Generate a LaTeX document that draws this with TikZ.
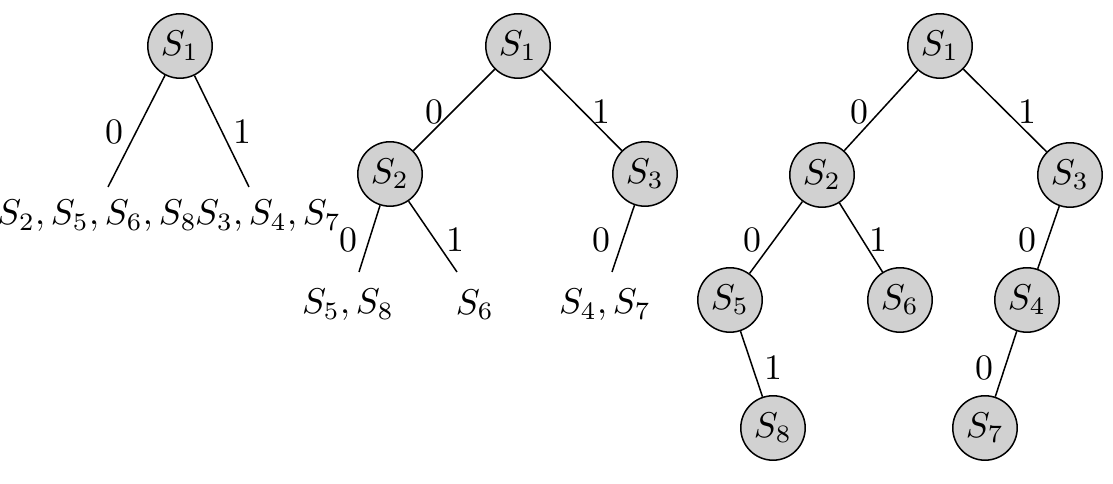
\documentclass[tikz,border=0pt]{standalone}
\begin{document}
\begin{tikzpicture}[x=0.2793pt,y=-0.2793pt,
  state/.style={circle,draw,fill=black!18,minimum size=18pt,inner sep=0pt,line width=0.42pt},
  lab/.style={inner sep=0pt},
  edge/.style={line width=0.42pt}]
\useasboundingbox (0,0) rectangle (1113,484);
% Tree 1
\node[state] (a1) at (180,46) {$S_1$};
\coordinate (a1l) at (108,187);
\coordinate (a1r) at (249,187);
\node[lab] (a1lt) at (97,216) {$S_2,S_5,S_6,S_8$};
\node[lab] (a1rt) at (268,216) {$S_3,S_4,S_7$};
\draw[edge] (a1) -- (a1l);
\draw[edge] (a1) -- (a1r);
\node[lab] (a1l0) at (114,132) {$0$};
\node[lab] (a1r1) at (242,132) {$1$};
% Tree 2
\node[state] (b1) at (518,46) {$S_1$};
\node[state] (b2) at (390,174) {$S_2$};
\node[state] (b3) at (645,174) {$S_3$};
\draw[edge] (b1) -- (b2);
\draw[edge] (b1) -- (b3);
\node[lab] (b10) at (434,112) {$0$};
\node[lab] (b11) at (601,112) {$1$};
\coordinate (b2l) at (359,272);
\coordinate (b2r) at (457,272);
\coordinate (b3l) at (612,272);
\draw[edge] (b2) -- (b2l);
\draw[edge] (b2) -- (b2r);
\draw[edge] (b3) -- (b3l);
\node[lab] (b20) at (348,240) {$0$};
\node[lab] (b21) at (455,240) {$1$};
\node[lab] (b30) at (601,240) {$0$};
\node[lab] (b2lt) at (348,305) {$S_5,S_8$};
\node[lab] (b2rt) at (475,305) {$S_6$};
\node[lab] (b3lt) at (605,305) {$S_4,S_7$};
% Tree 3
\node[state] (c1) at (940,46) {$S_1$};
\node[state] (c2) at (822,175) {$S_2$};
\node[state] (c3) at (1070,175) {$S_3$};
\node[state] (c5) at (730,300) {$S_5$};
\node[state] (c6) at (900,300) {$S_6$};
\node[state] (c4) at (1027,300) {$S_4$};
\node[state] (c8) at (773,428) {$S_8$};
\node[state] (c7) at (985,428) {$S_7$};
\draw[edge] (c1) -- (c2);
\draw[edge] (c1) -- (c3);
\draw[edge] (c2) -- (c5);
\draw[edge] (c2) -- (c6);
\draw[edge] (c3) -- (c4);
\draw[edge] (c5) -- (c8);
\draw[edge] (c4) -- (c7);
\node[lab] (c10) at (859,112) {$0$};
\node[lab] (c11) at (1027,112) {$1$};
\node[lab] (c20) at (752,240) {$0$};
\node[lab] (c21) at (878,240) {$1$};
\node[lab] (c30) at (1027,240) {$0$};
\node[lab] (c51) at (773,368) {$1$};
\node[lab] (c40) at (984,368) {$0$};
\end{tikzpicture}
\end{document}
